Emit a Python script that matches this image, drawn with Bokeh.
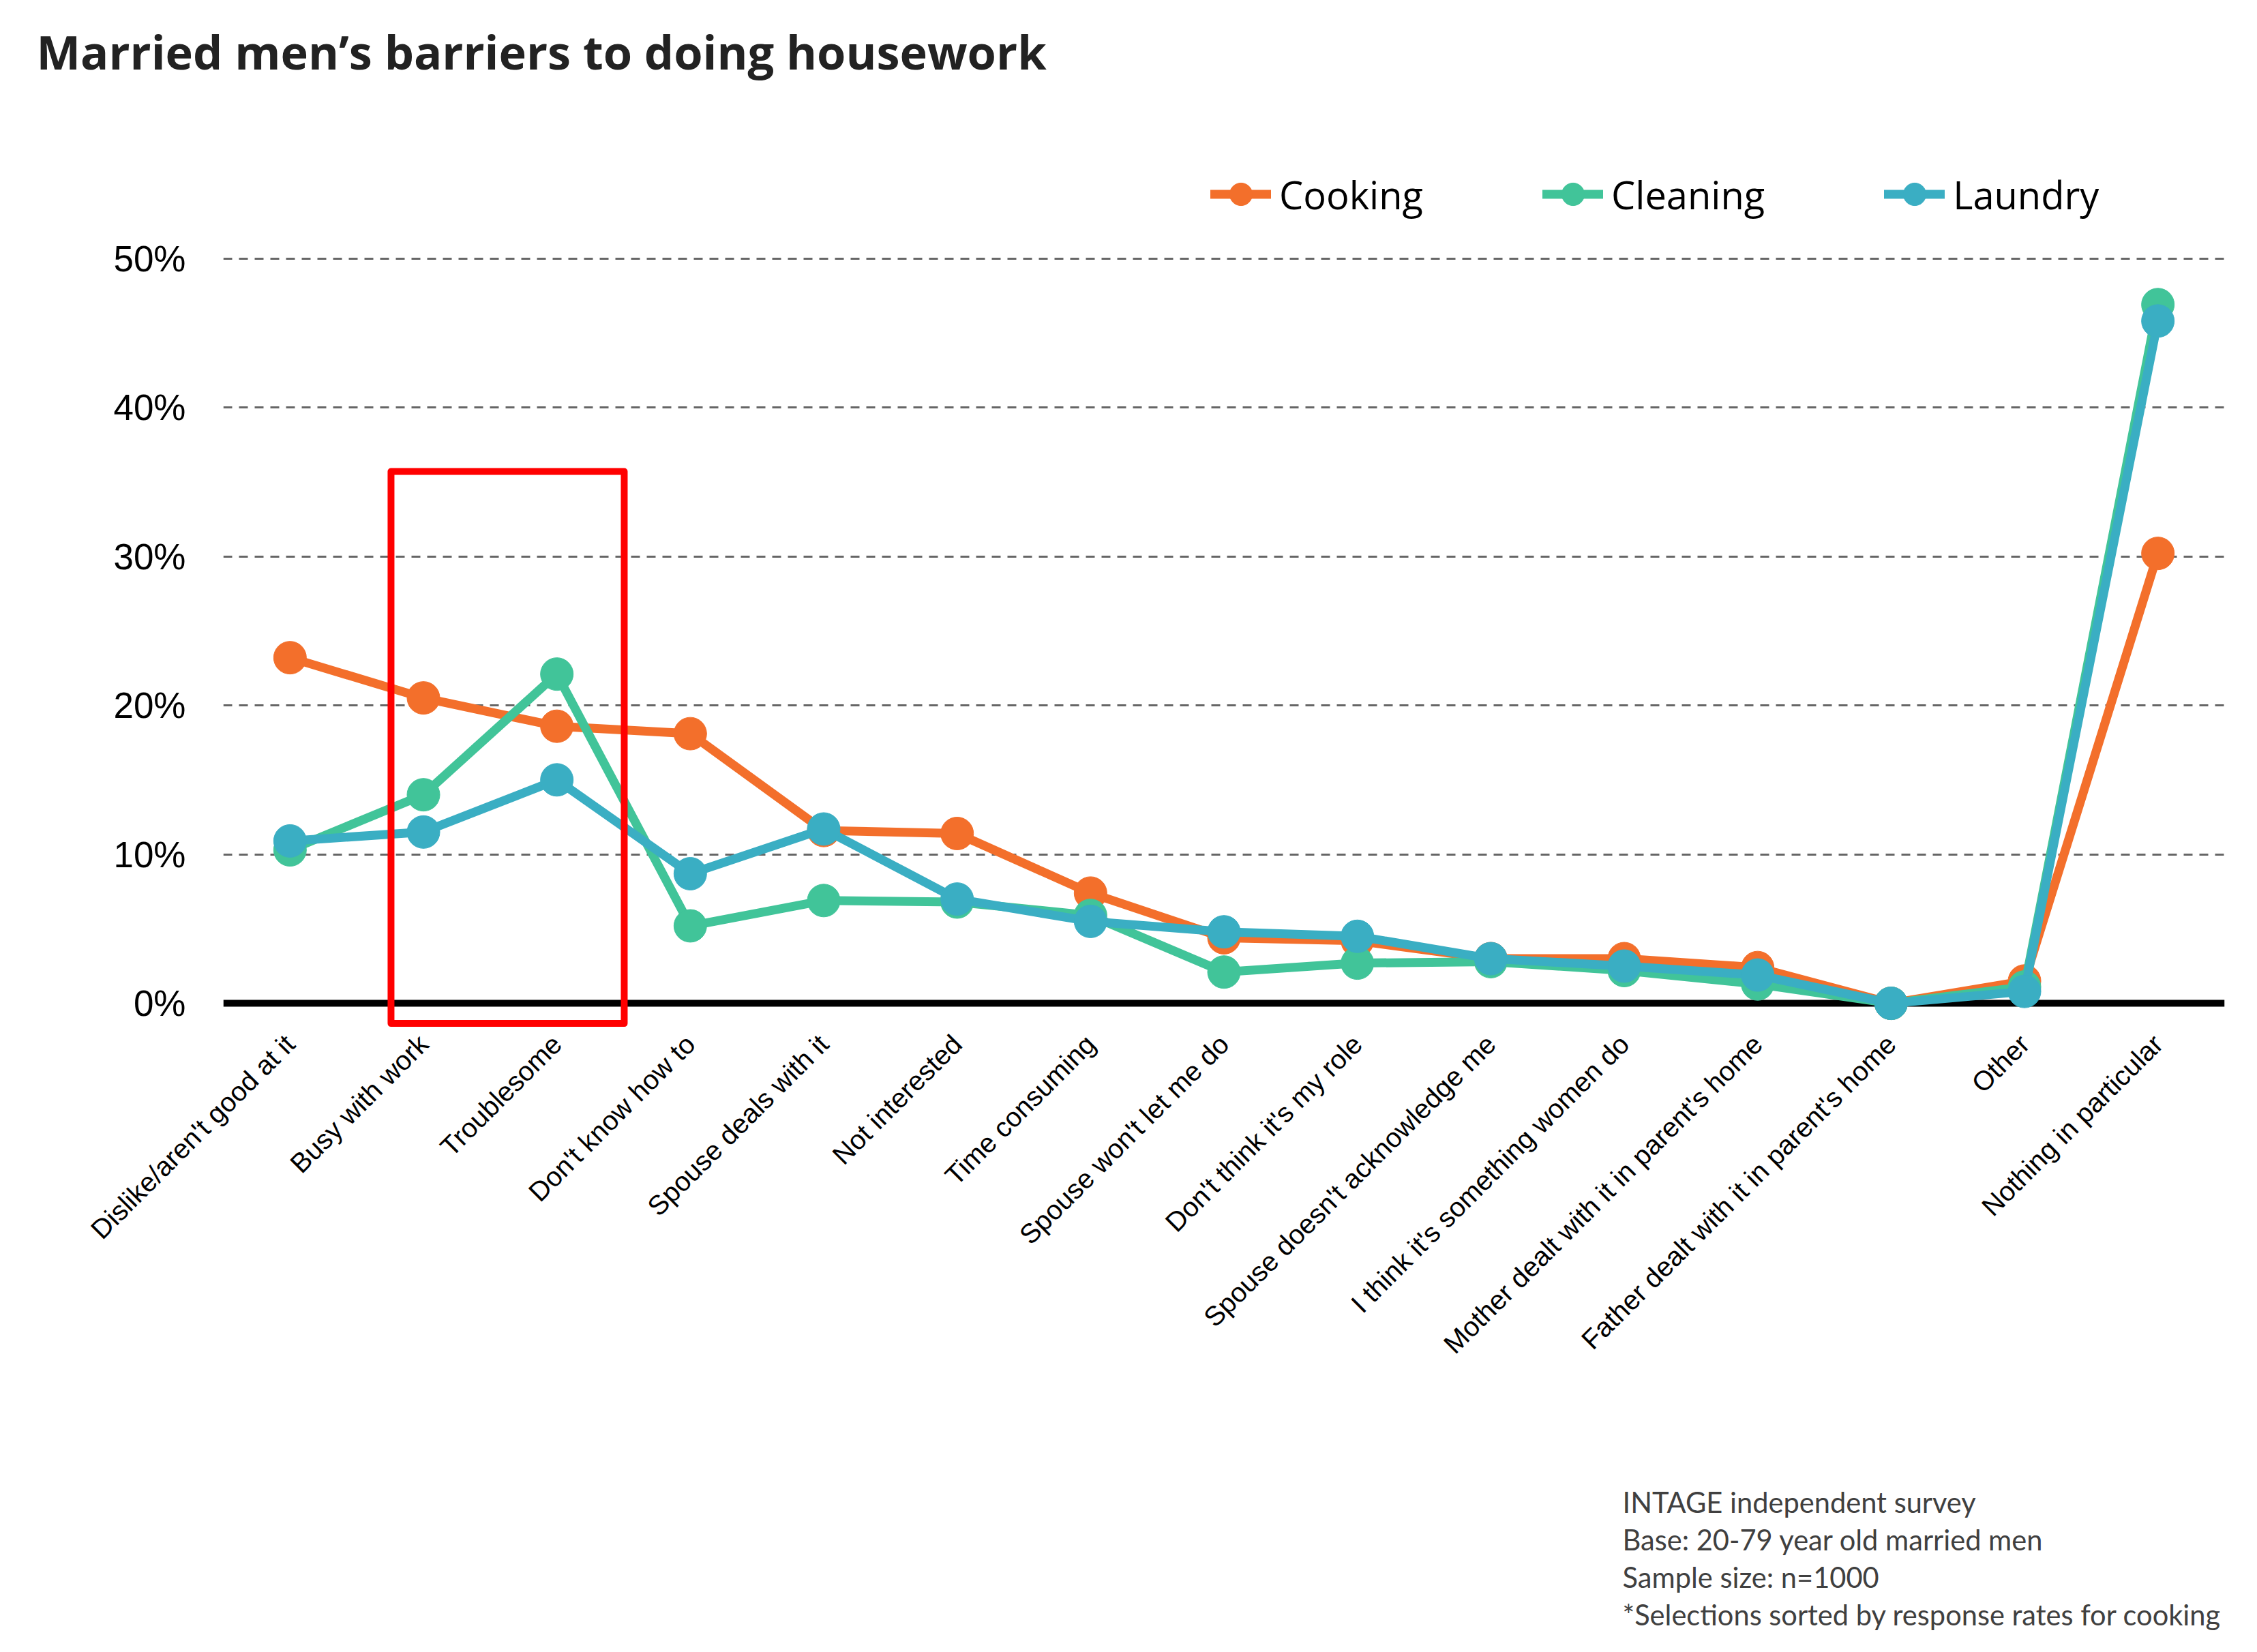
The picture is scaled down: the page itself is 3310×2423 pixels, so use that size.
import math
from bokeh.plotting import figure
from bokeh.layouts import column
from bokeh.models import (FactorRange, FixedTicker, PrintfTickFormatter, Span,
                          Legend, LegendItem, Label, ColumnDataSource, Range1d, Title)
from bokeh.embed import file_html
from bokeh.resources import INLINE

# ---------------- data ----------------
categories = [
    "Dislike/aren't good at it",
    "Busy with work",
    "Troublesome",
    "Don't know how to",
    "Spouse deals with it",
    "Not interested",
    "Time consuming",
    "Spouse won't let me do",
    "Don't think it's my role",
    "Spouse doesn't acknowledge me",
    "I think it's something women do",
    "Mother dealt with it in parent's home",
    "Father dealt with it in parent's home",
    "Other",
    "Nothing in particular",
]
cooking = [23.2, 20.5, 18.6, 18.1, 11.6, 11.4, 7.4, 4.4, 4.2, 3.0, 3.0, 2.4, 0.0, 1.5, 30.2]
cleaning = [10.3, 14.0, 22.1, 5.2, 6.9, 6.8, 5.9, 2.1, 2.7, 2.8, 2.2, 1.3, 0.0, 1.1, 46.9]
laundry = [10.9, 11.5, 15.0, 8.7, 11.7, 7.0, 5.5, 4.8, 4.5, 3.0, 2.5, 1.9, 0.0, 0.8, 45.8]

series_names = ["Cooking", "Cleaning", "Laundry"]
series_colors = ["#F36F2B", "#41C499", "#3AAEC3"]
y_ticks = [0, 10, 20, 30, 40, 50]

title_text = "Married men\u2019s barriers to doing housework"
footnote_lines = [
    "INTAGE independent survey",
    "Base: 20-79 year old married men",
    "Sample size: n=1000",
    "*Selections sorted by response rates for cooking",
]

# highlight box (annotation) around "Busy with work" / "Troublesome"
HL_LEFT, HL_RIGHT, HL_TOP, HL_BOTTOM = 1.257, 3.005, 35.7, -1.35

# layout constants (pixels)
W = 3294
TITLE_H = 160
FOOT_H = 260
MAIN_H = 2400 - TITLE_H - FOOT_H
FRAME_LEFT, FRAME_W, FRAME_H = 327, 2935, 1350
Y_START, Y_END = -1.78, 60.0


def text_panel(height, x_range, y_range):
    f = figure(width=W, height=height, x_range=x_range, y_range=y_range,
               output_backend="svg", toolbar_location=None, title=None,
               min_border=0, min_border_left=0, min_border_right=0,
               min_border_top=0, min_border_bottom=0)
    f.axis.visible = False
    f.grid.visible = False
    f.outline_line_color = None
    f.background_fill_color = "white"
    f.border_fill_color = "white"
    return f


# ---------------- title panel ----------------
title_fig = text_panel(TITLE_H, Range1d(0, 1), Range1d(0, 1))
title_fig.add_layout(Title(text=title_text, align="left", vertical_align="top",
                           offset=53 - FRAME_LEFT, standoff=56,
                           text_font="Open Sans", text_font_style="bold",
                           text_font_size="68.5px", text_color="#222222"), "above")

# ---------------- main chart ----------------
p = figure(
    width=W, height=MAIN_H,
    x_range=FactorRange(*categories, range_padding=0),
    y_range=(Y_START, Y_END),
    output_backend="svg", toolbar_location=None, title=None,
    min_border_left=FRAME_LEFT, min_border_right=W - FRAME_LEFT - FRAME_W,
    min_border_top=0, min_border_bottom=MAIN_H - FRAME_H,
)
p.outline_line_color = None
p.background_fill_color = "white"
p.border_fill_color = "white"

# y axis
p.yaxis.ticker = FixedTicker(ticks=y_ticks)
p.yaxis.formatter = PrintfTickFormatter(format="%d%%")
p.yaxis.axis_line_color = None
p.yaxis.major_tick_line_color = None
p.yaxis.minor_tick_line_color = None
p.yaxis.major_label_standoff = 49
p.yaxis.major_label_text_font = "Liberation Sans"
p.yaxis.major_label_text_font_size = "53px"
p.yaxis.major_label_text_color = "black"

# x axis
p.xaxis.axis_line_color = None
p.xaxis.major_tick_line_color = None
p.xaxis.minor_tick_line_color = None
p.xaxis.major_label_orientation = math.pi / 4
p.xaxis.major_label_standoff = 8
p.xaxis.major_label_text_font = "Liberation Sans"
p.xaxis.major_label_text_font_size = "40px"
p.xaxis.major_label_text_color = "black"

# grid
p.xgrid.grid_line_color = None
p.ygrid.ticker = FixedTicker(ticks=y_ticks[1:])
p.ygrid.grid_line_color = "#666666"
p.ygrid.grid_line_width = 3
p.ygrid.grid_line_dash = "13 10"

zero_line = Span(location=0, dimension="width", line_color="black",
                 line_width=10, level="underlay")
p.add_layout(zero_line)

# series
items = []
for name, vals, color in zip(series_names, [cooking, cleaning, laundry], series_colors):
    src = ColumnDataSource(dict(x=categories, y=vals))
    lr = p.line("x", "y", source=src, line_color=color, line_width=13,
                line_join="round", line_cap="round")
    sr = p.scatter("x", "y", source=src, marker="circle", size=48,
                   fill_color=color, line_color=color)
    items.append(LegendItem(label=name, renderers=[lr, sr]))

legend = Legend(
    items=items, orientation="horizontal", location=(1448, 1184),
    glyph_width=89, glyph_height=83, label_standoff=12, spacing=175,
    padding=0, margin=0, background_fill_alpha=0, border_line_alpha=0,
    label_text_font="Open Sans", label_text_font_size="56px",
    label_text_color="black",
)
p.add_layout(legend)

# highlight rectangle
p.quad(left=[HL_LEFT], right=[HL_RIGHT], top=[HL_TOP], bottom=[HL_BOTTOM],
       fill_alpha=0, line_color="#FF0000", line_width=10, line_join="round")

# ---------------- footnote panel ----------------
# its frame is aligned with the main frame: x data == page pixel
foot_top = 2400 - FOOT_H
foot_fig = text_panel(FOOT_H, Range1d(FRAME_LEFT, FRAME_LEFT + FRAME_W), Range1d(FOOT_H, 0))
for i, line in enumerate(footnote_lines):
    foot_fig.add_layout(Label(x=2379, y=2217 + 55 * i - foot_top - 15, text=line,
                              text_font="Lato", text_font_size="41.6px",
                              text_color="#404040", text_baseline="alphabetic",
                              text_align="left"))

layout = column(title_fig, p, foot_fig, spacing=0)
open("out.html", "w").write(file_html(layout, INLINE))
